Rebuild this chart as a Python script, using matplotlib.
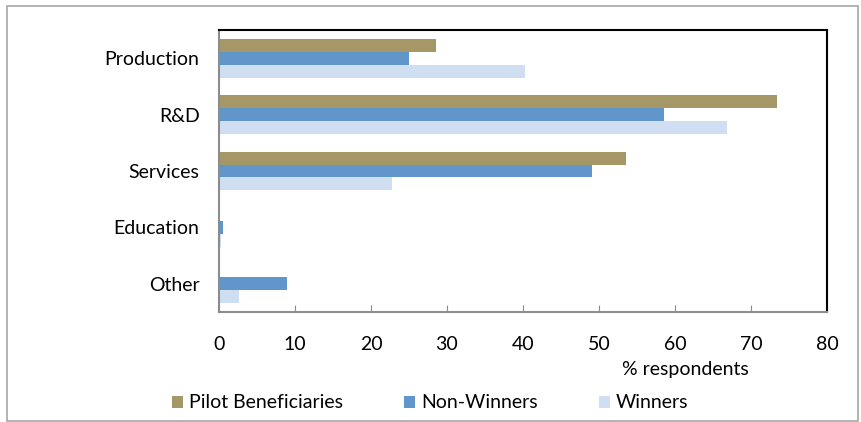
import numpy as np
import matplotlib.pyplot as plt
from matplotlib.patches import Rectangle, Patch

plt.rcParams['font.family'] = ['Lato', 'DejaVu Sans']

categories = ["Production", "R&D", "Services", "Education", "Other"]
pilot = [28.6, 73.4, 53.6, 0.0, 0.0]
non_winners = [25.0, 58.6, 49.1, 0.5, 9.0]
winners = [40.3, 66.8, 22.8, 0.3, 2.6]
series_names = ["Pilot Beneficiaries", "Non-Winners", "Winners"]
colors = ["#A59866", "#6096C9", "#CFDFF1"]

W, H = 862, 422
fs = 14
fig = plt.figure(figsize=(W / 100, H / 100), dpi=100)
ax = fig.add_axes([219 / W, 1 - 312 / H, (827 - 219) / W, (312 - 30) / H])

y = np.arange(len(categories))
h = 0.23
for i, (vals, c) in enumerate(zip([pilot, non_winners, winners], colors)):
    ax.barh(y - h + i * h, vals, height=h, color=c, edgecolor='none')

ax.set_xlim(0, 80)
ax.set_ylim(len(categories) - 0.5, -0.5)
ax.set_xticks(np.arange(0, 81, 10))
ax.set_yticks(y)
ax.set_yticklabels(categories)
ax.tick_params(axis='y', length=0, pad=14, labelsize=fs)
ax.tick_params(axis='x', direction='in', length=5, color='#8c8c8c', pad=17, labelsize=fs)

for s in ['left', 'bottom']:
    ax.spines[s].set_color('#8c8c8c')
    ax.spines[s].set_linewidth(1.5)
for s in ['top', 'right']:
    ax.spines[s].set_color('black')
    ax.spines[s].set_linewidth(1.5)

fig.text(685 / W, 1 - 369 / H, "% respondents", ha='center', va='center', fontsize=fs)

# legend entries placed one by one, like the spreadsheet layout
legend_x = [172, 404, 599]
for name, c, lx in zip(series_names, colors, legend_x):
    fig.legend([Patch(facecolor=c, edgecolor='none')], [name], loc='center left',
               bbox_to_anchor=(lx / W, 1 - 403 / H), frameon=False, fontsize=fs,
               borderpad=0, borderaxespad=0, handlelength=0.57, handleheight=0.57,
               handletextpad=0.3)

fig.patches.append(Rectangle((7 / W, 1 / H), 851 / W, 415 / H, transform=fig.transFigure,
                             fill=False, edgecolor='#a6a6a6', linewidth=1.2))

fig.savefig("out.png", dpi=100)
